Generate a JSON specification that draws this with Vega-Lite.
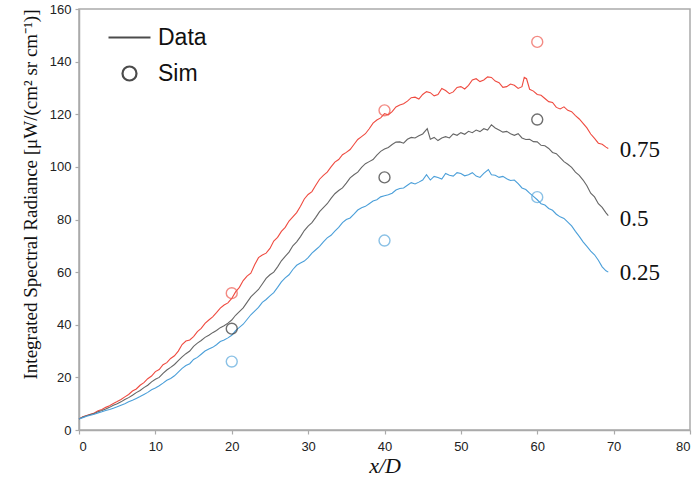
{
  "$schema": "https://vega.github.io/schema/vega-lite/v6.json",
  "width": 611,
  "height": 421,
  "autosize": {"type": "none"},
  "padding": {"left": 79, "top": 9, "right": 6, "bottom": 52},
  "background": "white",
  "config": {
    "view": {"stroke": "#aaaaaa", "strokeWidth": 1.5},
    "axis": {
      "grid": false,
      "domainColor": "#aaaaaa",
      "domainWidth": 1.5,
      "tickColor": "#aaaaaa",
      "tickWidth": 1.2,
      "tickSize": 4,
      "labelFont": "Liberation Sans",
      "labelFontSize": 13,
      "labelColor": "#222222",
      "titleFont": "Liberation Serif",
      "titleFontWeight": "normal",
      "titleColor": "#111111"
    }
  },
  "datasets": {
    "lines": [
      {"s":"0.75","x":0,"y":4.2},{"s":"0.75","x":0.5,"y":5.0},{"s":"0.75","x":1,"y":5.5},{"s":"0.75","x":1.5,"y":6.0},{"s":"0.75","x":2,"y":6.5},{"s":"0.75","x":2.5,"y":7.3},{"s":"0.75","x":3,"y":7.8},{"s":"0.75","x":3.5,"y":8.6},{"s":"0.75","x":4,"y":9.2},{"s":"0.75","x":4.5,"y":10.1},{"s":"0.75","x":5,"y":10.8},{"s":"0.75","x":5.5,"y":11.6},{"s":"0.75","x":6,"y":12.6},{"s":"0.75","x":6.5,"y":13.5},{"s":"0.75","x":7,"y":14.8},{"s":"0.75","x":7.5,"y":15.6},{"s":"0.75","x":8,"y":17.0},{"s":"0.75","x":8.5,"y":18.0},{"s":"0.75","x":9,"y":19.5},{"s":"0.75","x":9.5,"y":20.5},{"s":"0.75","x":10,"y":22.2},{"s":"0.75","x":10.5,"y":23.0},{"s":"0.75","x":11,"y":24.8},{"s":"0.75","x":11.5,"y":25.6},{"s":"0.75","x":12,"y":27.2},{"s":"0.75","x":12.5,"y":28.2},{"s":"0.75","x":13,"y":30.0},{"s":"0.75","x":13.5,"y":32.5},{"s":"0.75","x":14,"y":33.8},{"s":"0.75","x":14.5,"y":34.2},{"s":"0.75","x":15,"y":35.5},{"s":"0.75","x":15.5,"y":37.4},{"s":"0.75","x":16,"y":38.6},{"s":"0.75","x":16.5,"y":40.5},{"s":"0.75","x":17,"y":41.8},{"s":"0.75","x":17.5,"y":43.0},{"s":"0.75","x":18,"y":44.6},{"s":"0.75","x":18.5,"y":46.3},{"s":"0.75","x":19,"y":47.5},{"s":"0.75","x":19.5,"y":48.3},{"s":"0.75","x":20,"y":50.0},{"s":"0.75","x":20.5,"y":52.5},{"s":"0.75","x":21,"y":54.2},{"s":"0.75","x":21.5,"y":56.8},{"s":"0.75","x":22,"y":58.5},{"s":"0.75","x":22.5,"y":59.6},{"s":"0.75","x":23,"y":62.8},{"s":"0.75","x":23.5,"y":65.5},{"s":"0.75","x":24,"y":66.5},{"s":"0.75","x":24.5,"y":67.2},{"s":"0.75","x":25,"y":69.0},{"s":"0.75","x":25.5,"y":71.8},{"s":"0.75","x":26,"y":73.2},{"s":"0.75","x":26.5,"y":75.5},{"s":"0.75","x":27,"y":77.0},{"s":"0.75","x":27.5,"y":79.4},{"s":"0.75","x":28,"y":81.0},{"s":"0.75","x":28.5,"y":82.6},{"s":"0.75","x":29,"y":85.0},{"s":"0.75","x":29.5,"y":87.8},{"s":"0.75","x":30,"y":89.5},{"s":"0.75","x":30.5,"y":90.6},{"s":"0.75","x":31,"y":93.0},{"s":"0.75","x":31.5,"y":95.3},{"s":"0.75","x":32,"y":96.8},{"s":"0.75","x":32.5,"y":98.0},{"s":"0.75","x":33,"y":100.0},{"s":"0.75","x":33.5,"y":101.8},{"s":"0.75","x":34,"y":102.8},{"s":"0.75","x":34.5,"y":104.6},{"s":"0.75","x":35,"y":105.5},{"s":"0.75","x":35.5,"y":106.6},{"s":"0.75","x":36,"y":108.5},{"s":"0.75","x":36.5,"y":110.4},{"s":"0.75","x":37,"y":111.5},{"s":"0.75","x":37.5,"y":112.6},{"s":"0.75","x":38,"y":114.5},{"s":"0.75","x":38.5,"y":116.6},{"s":"0.75","x":39,"y":117.8},{"s":"0.75","x":39.5,"y":118.6},{"s":"0.75","x":40,"y":120.2},{"s":"0.75","x":40.5,"y":119.8},{"s":"0.75","x":41,"y":121.0},{"s":"0.75","x":41.5,"y":122.8},{"s":"0.75","x":42,"y":123.5},{"s":"0.75","x":42.5,"y":124.0},{"s":"0.75","x":43,"y":125.0},{"s":"0.75","x":43.5,"y":126.3},{"s":"0.75","x":44,"y":126.5},{"s":"0.75","x":44.5,"y":125.8},{"s":"0.75","x":45,"y":127.5},{"s":"0.75","x":45.5,"y":128.6},{"s":"0.75","x":46,"y":128.2},{"s":"0.75","x":46.5,"y":127.0},{"s":"0.75","x":47,"y":127.5},{"s":"0.75","x":47.5,"y":129.8},{"s":"0.75","x":48,"y":129.0},{"s":"0.75","x":48.5,"y":127.8},{"s":"0.75","x":49,"y":128.5},{"s":"0.75","x":49.5,"y":130.2},{"s":"0.75","x":50,"y":130.5},{"s":"0.75","x":50.5,"y":129.6},{"s":"0.75","x":51,"y":131.0},{"s":"0.75","x":51.5,"y":133.0},{"s":"0.75","x":52,"y":133.5},{"s":"0.75","x":52.5,"y":132.4},{"s":"0.75","x":53,"y":133.0},{"s":"0.75","x":53.5,"y":134.2},{"s":"0.75","x":54,"y":134.0},{"s":"0.75","x":54.5,"y":132.6},{"s":"0.75","x":55,"y":132.0},{"s":"0.75","x":55.5,"y":130.2},{"s":"0.75","x":56,"y":130.5},{"s":"0.75","x":56.5,"y":131.5},{"s":"0.75","x":57,"y":131.0},{"s":"0.75","x":57.5,"y":129.8},{"s":"0.75","x":58,"y":130.5},{"s":"0.75","x":58.3,"y":134.0},{"s":"0.75","x":58.6,"y":133.5},{"s":"0.75","x":59,"y":129.5},{"s":"0.75","x":59.5,"y":128.8},{"s":"0.75","x":60,"y":127.5},{"s":"0.75","x":60.5,"y":127.2},{"s":"0.75","x":61,"y":126.0},{"s":"0.75","x":61.5,"y":124.8},{"s":"0.75","x":62,"y":124.5},{"s":"0.75","x":62.5,"y":122.6},{"s":"0.75","x":63,"y":122.0},{"s":"0.75","x":63.5,"y":122.8},{"s":"0.75","x":64,"y":121.5},{"s":"0.75","x":64.5,"y":121.0},{"s":"0.75","x":65,"y":119.5},{"s":"0.75","x":65.5,"y":118.2},{"s":"0.75","x":66,"y":116.5},{"s":"0.75","x":66.5,"y":114.8},{"s":"0.75","x":67,"y":112.5},{"s":"0.75","x":67.5,"y":110.8},{"s":"0.75","x":68,"y":109.0},{"s":"0.75","x":68.5,"y":108.6},{"s":"0.75","x":69,"y":107.5},{"s":"0.75","x":69.3,"y":107.0},
      {"s":"0.5","x":0,"y":4.2},{"s":"0.5","x":0.5,"y":4.9},{"s":"0.5","x":1,"y":5.4},{"s":"0.5","x":1.5,"y":5.9},{"s":"0.5","x":2,"y":6.3},{"s":"0.5","x":2.5,"y":6.9},{"s":"0.5","x":3,"y":7.4},{"s":"0.5","x":3.5,"y":8.0},{"s":"0.5","x":4,"y":8.6},{"s":"0.5","x":4.5,"y":9.4},{"s":"0.5","x":5,"y":10.0},{"s":"0.5","x":5.5,"y":10.7},{"s":"0.5","x":6,"y":11.6},{"s":"0.5","x":6.5,"y":12.3},{"s":"0.5","x":7,"y":13.2},{"s":"0.5","x":7.5,"y":14.2},{"s":"0.5","x":8,"y":15.0},{"s":"0.5","x":8.5,"y":16.1},{"s":"0.5","x":9,"y":17.0},{"s":"0.5","x":9.5,"y":18.3},{"s":"0.5","x":10,"y":19.3},{"s":"0.5","x":10.5,"y":20.0},{"s":"0.5","x":11,"y":21.5},{"s":"0.5","x":11.5,"y":22.8},{"s":"0.5","x":12,"y":23.8},{"s":"0.5","x":12.5,"y":24.9},{"s":"0.5","x":13,"y":26.4},{"s":"0.5","x":13.5,"y":27.8},{"s":"0.5","x":14,"y":29.0},{"s":"0.5","x":14.5,"y":30.0},{"s":"0.5","x":15,"y":31.8},{"s":"0.5","x":15.5,"y":33.0},{"s":"0.5","x":16,"y":34.0},{"s":"0.5","x":16.5,"y":35.2},{"s":"0.5","x":17,"y":36.0},{"s":"0.5","x":17.5,"y":37.0},{"s":"0.5","x":18,"y":37.8},{"s":"0.5","x":18.5,"y":38.9},{"s":"0.5","x":19,"y":39.6},{"s":"0.5","x":19.5,"y":40.6},{"s":"0.5","x":20,"y":41.8},{"s":"0.5","x":20.5,"y":43.6},{"s":"0.5","x":21,"y":45.0},{"s":"0.5","x":21.5,"y":46.4},{"s":"0.5","x":22,"y":48.5},{"s":"0.5","x":22.5,"y":50.6},{"s":"0.5","x":23,"y":52.0},{"s":"0.5","x":23.5,"y":53.4},{"s":"0.5","x":24,"y":55.5},{"s":"0.5","x":24.5,"y":57.6},{"s":"0.5","x":25,"y":59.0},{"s":"0.5","x":25.5,"y":60.0},{"s":"0.5","x":26,"y":62.0},{"s":"0.5","x":26.5,"y":64.3},{"s":"0.5","x":27,"y":66.0},{"s":"0.5","x":27.5,"y":67.6},{"s":"0.5","x":28,"y":70.0},{"s":"0.5","x":28.5,"y":71.5},{"s":"0.5","x":29,"y":73.5},{"s":"0.5","x":29.5,"y":75.8},{"s":"0.5","x":30,"y":77.5},{"s":"0.5","x":30.5,"y":78.8},{"s":"0.5","x":31,"y":80.8},{"s":"0.5","x":31.5,"y":83.0},{"s":"0.5","x":32,"y":84.5},{"s":"0.5","x":32.5,"y":86.0},{"s":"0.5","x":33,"y":88.0},{"s":"0.5","x":33.5,"y":89.8},{"s":"0.5","x":34,"y":91.0},{"s":"0.5","x":34.5,"y":92.0},{"s":"0.5","x":35,"y":93.8},{"s":"0.5","x":35.5,"y":95.8},{"s":"0.5","x":36,"y":97.0},{"s":"0.5","x":36.5,"y":98.0},{"s":"0.5","x":37,"y":99.8},{"s":"0.5","x":37.5,"y":101.2},{"s":"0.5","x":38,"y":102.0},{"s":"0.5","x":38.5,"y":102.8},{"s":"0.5","x":39,"y":104.5},{"s":"0.5","x":39.5,"y":105.9},{"s":"0.5","x":40,"y":106.8},{"s":"0.5","x":40.5,"y":107.4},{"s":"0.5","x":41,"y":108.5},{"s":"0.5","x":41.5,"y":109.4},{"s":"0.5","x":42,"y":109.5},{"s":"0.5","x":42.5,"y":109.0},{"s":"0.5","x":43,"y":110.5},{"s":"0.5","x":43.5,"y":111.2},{"s":"0.5","x":44,"y":111.0},{"s":"0.5","x":44.5,"y":111.8},{"s":"0.5","x":45,"y":112.5},{"s":"0.5","x":45.6,"y":114.5},{"s":"0.5","x":46,"y":110.5},{"s":"0.5","x":46.5,"y":111.2},{"s":"0.5","x":47,"y":110.0},{"s":"0.5","x":47.5,"y":111.0},{"s":"0.5","x":48,"y":111.5},{"s":"0.5","x":48.5,"y":111.0},{"s":"0.5","x":49,"y":112.5},{"s":"0.5","x":49.5,"y":112.0},{"s":"0.5","x":50,"y":113.0},{"s":"0.5","x":50.5,"y":112.4},{"s":"0.5","x":51,"y":113.5},{"s":"0.5","x":51.5,"y":113.0},{"s":"0.5","x":52,"y":114.0},{"s":"0.5","x":52.5,"y":113.4},{"s":"0.5","x":53,"y":114.5},{"s":"0.5","x":53.5,"y":114.0},{"s":"0.5","x":54,"y":116.0},{"s":"0.5","x":54.5,"y":114.8},{"s":"0.5","x":55,"y":114.0},{"s":"0.5","x":55.5,"y":113.2},{"s":"0.5","x":56,"y":113.5},{"s":"0.5","x":56.5,"y":112.6},{"s":"0.5","x":57,"y":112.0},{"s":"0.5","x":57.5,"y":112.6},{"s":"0.5","x":58,"y":111.0},{"s":"0.5","x":58.5,"y":110.4},{"s":"0.5","x":59,"y":110.5},{"s":"0.5","x":59.5,"y":109.6},{"s":"0.5","x":60,"y":109.5},{"s":"0.5","x":60.5,"y":108.2},{"s":"0.5","x":61,"y":108.0},{"s":"0.5","x":61.5,"y":107.0},{"s":"0.5","x":62,"y":105.5},{"s":"0.5","x":62.5,"y":105.0},{"s":"0.5","x":63,"y":103.5},{"s":"0.5","x":63.5,"y":102.0},{"s":"0.5","x":64,"y":101.0},{"s":"0.5","x":64.5,"y":99.8},{"s":"0.5","x":65,"y":98.0},{"s":"0.5","x":65.5,"y":96.8},{"s":"0.5","x":66,"y":95.0},{"s":"0.5","x":66.5,"y":92.8},{"s":"0.5","x":67,"y":90.0},{"s":"0.5","x":67.5,"y":88.6},{"s":"0.5","x":68,"y":86.0},{"s":"0.5","x":68.5,"y":84.6},{"s":"0.5","x":69,"y":82.5},{"s":"0.5","x":69.3,"y":81.5},
      {"s":"0.25","x":0,"y":4.2},{"s":"0.25","x":0.5,"y":4.7},{"s":"0.25","x":1,"y":5.2},{"s":"0.25","x":1.5,"y":5.6},{"s":"0.25","x":2,"y":6.0},{"s":"0.25","x":2.5,"y":6.5},{"s":"0.25","x":3,"y":6.9},{"s":"0.25","x":3.5,"y":7.4},{"s":"0.25","x":4,"y":7.8},{"s":"0.25","x":4.5,"y":8.3},{"s":"0.25","x":5,"y":8.8},{"s":"0.25","x":5.5,"y":9.4},{"s":"0.25","x":6,"y":10.0},{"s":"0.25","x":6.5,"y":10.7},{"s":"0.25","x":7,"y":11.3},{"s":"0.25","x":7.5,"y":12.0},{"s":"0.25","x":8,"y":12.7},{"s":"0.25","x":8.5,"y":13.5},{"s":"0.25","x":9,"y":14.3},{"s":"0.25","x":9.5,"y":15.3},{"s":"0.25","x":10,"y":16.0},{"s":"0.25","x":10.5,"y":16.8},{"s":"0.25","x":11,"y":17.8},{"s":"0.25","x":11.5,"y":18.9},{"s":"0.25","x":12,"y":19.6},{"s":"0.25","x":12.5,"y":20.6},{"s":"0.25","x":13,"y":22.0},{"s":"0.25","x":13.5,"y":23.4},{"s":"0.25","x":14,"y":24.5},{"s":"0.25","x":14.5,"y":25.2},{"s":"0.25","x":15,"y":26.8},{"s":"0.25","x":15.5,"y":27.6},{"s":"0.25","x":16,"y":28.8},{"s":"0.25","x":16.5,"y":30.0},{"s":"0.25","x":17,"y":30.8},{"s":"0.25","x":17.5,"y":31.4},{"s":"0.25","x":18,"y":32.4},{"s":"0.25","x":18.5,"y":33.6},{"s":"0.25","x":19,"y":34.2},{"s":"0.25","x":19.5,"y":35.0},{"s":"0.25","x":20,"y":36.0},{"s":"0.25","x":20.5,"y":37.8},{"s":"0.25","x":21,"y":39.0},{"s":"0.25","x":21.5,"y":40.2},{"s":"0.25","x":22,"y":42.0},{"s":"0.25","x":22.5,"y":43.8},{"s":"0.25","x":23,"y":45.2},{"s":"0.25","x":23.5,"y":46.6},{"s":"0.25","x":24,"y":48.5},{"s":"0.25","x":24.5,"y":49.6},{"s":"0.25","x":25,"y":51.0},{"s":"0.25","x":25.5,"y":52.2},{"s":"0.25","x":26,"y":54.2},{"s":"0.25","x":26.5,"y":56.3},{"s":"0.25","x":27,"y":57.8},{"s":"0.25","x":27.5,"y":59.0},{"s":"0.25","x":28,"y":61.0},{"s":"0.25","x":28.5,"y":62.6},{"s":"0.25","x":29,"y":63.5},{"s":"0.25","x":29.5,"y":64.2},{"s":"0.25","x":30,"y":65.5},{"s":"0.25","x":30.5,"y":67.2},{"s":"0.25","x":31,"y":68.5},{"s":"0.25","x":31.5,"y":69.8},{"s":"0.25","x":32,"y":71.5},{"s":"0.25","x":32.5,"y":73.0},{"s":"0.25","x":33,"y":74.0},{"s":"0.25","x":33.5,"y":75.6},{"s":"0.25","x":34,"y":77.0},{"s":"0.25","x":34.5,"y":78.8},{"s":"0.25","x":35,"y":80.0},{"s":"0.25","x":35.5,"y":80.6},{"s":"0.25","x":36,"y":82.0},{"s":"0.25","x":36.5,"y":83.6},{"s":"0.25","x":37,"y":84.5},{"s":"0.25","x":37.5,"y":85.0},{"s":"0.25","x":38,"y":86.0},{"s":"0.25","x":38.5,"y":87.0},{"s":"0.25","x":39,"y":87.5},{"s":"0.25","x":39.5,"y":88.6},{"s":"0.25","x":40,"y":89.0},{"s":"0.25","x":40.5,"y":89.4},{"s":"0.25","x":41,"y":90.0},{"s":"0.25","x":41.5,"y":91.2},{"s":"0.25","x":42,"y":91.8},{"s":"0.25","x":42.5,"y":92.0},{"s":"0.25","x":43,"y":93.0},{"s":"0.25","x":43.5,"y":94.0},{"s":"0.25","x":44,"y":93.5},{"s":"0.25","x":44.5,"y":94.2},{"s":"0.25","x":45,"y":95.0},{"s":"0.25","x":45.5,"y":97.0},{"s":"0.25","x":46,"y":95.0},{"s":"0.25","x":46.5,"y":96.4},{"s":"0.25","x":47,"y":96.0},{"s":"0.25","x":47.5,"y":95.4},{"s":"0.25","x":48,"y":97.5},{"s":"0.25","x":48.5,"y":96.8},{"s":"0.25","x":49,"y":96.5},{"s":"0.25","x":49.5,"y":97.8},{"s":"0.25","x":50,"y":97.5},{"s":"0.25","x":50.5,"y":96.6},{"s":"0.25","x":51,"y":97.0},{"s":"0.25","x":51.5,"y":97.8},{"s":"0.25","x":52,"y":96.5},{"s":"0.25","x":52.5,"y":96.0},{"s":"0.25","x":53,"y":97.5},{"s":"0.25","x":53.6,"y":99.0},{"s":"0.25","x":54,"y":97.0},{"s":"0.25","x":54.5,"y":96.8},{"s":"0.25","x":55,"y":96.0},{"s":"0.25","x":55.5,"y":96.4},{"s":"0.25","x":56,"y":95.5},{"s":"0.25","x":56.5,"y":94.8},{"s":"0.25","x":57,"y":95.0},{"s":"0.25","x":57.5,"y":93.6},{"s":"0.25","x":58,"y":92.0},{"s":"0.25","x":58.5,"y":91.4},{"s":"0.25","x":59,"y":90.0},{"s":"0.25","x":59.5,"y":88.8},{"s":"0.25","x":60,"y":87.5},{"s":"0.25","x":60.5,"y":86.0},{"s":"0.25","x":61,"y":85.5},{"s":"0.25","x":61.5,"y":84.2},{"s":"0.25","x":62,"y":83.5},{"s":"0.25","x":62.5,"y":82.0},{"s":"0.25","x":63,"y":81.0},{"s":"0.25","x":63.5,"y":80.4},{"s":"0.25","x":64,"y":79.0},{"s":"0.25","x":64.5,"y":77.6},{"s":"0.25","x":65,"y":75.5},{"s":"0.25","x":65.5,"y":73.6},{"s":"0.25","x":66,"y":71.5},{"s":"0.25","x":66.5,"y":69.8},{"s":"0.25","x":67,"y":68.0},{"s":"0.25","x":67.5,"y":66.6},{"s":"0.25","x":68,"y":64.5},{"s":"0.25","x":68.5,"y":62.0},{"s":"0.25","x":69,"y":60.5},{"s":"0.25","x":69.3,"y":60.0}
    ],
    "sims": [
      {"s":"0.75","x":20,"y":52,"kind":"Sim"},{"s":"0.75","x":40,"y":121.5,"kind":"Sim"},{"s":"0.75","x":60,"y":147.5,"kind":"Sim"},
      {"s":"0.5","x":20,"y":38.5,"kind":"Sim"},{"s":"0.5","x":40,"y":96,"kind":"Sim"},{"s":"0.5","x":60,"y":118,"kind":"Sim"},
      {"s":"0.25","x":20,"y":26,"kind":"Sim"},{"s":"0.25","x":40,"y":72,"kind":"Sim"},{"s":"0.25","x":60,"y":88.5,"kind":"Sim"}
    ],
    "labels": [
      {"label":"0.75","x":70.8,"y":106.5},
      {"label":"0.5","x":70.8,"y":80.2},
      {"label":"0.25","x":70.8,"y":59.7}
    ]
  },
  "layer": [
    {
      "data": {"name": "lines"},
      "mark": {"type": "line", "strokeWidth": 1.1},
      "encoding": {
        "x": {"field": "x", "type": "quantitative", "scale": {"domain": [0, 80], "nice": false},
          "axis": {"values": [0,5,10,15,20,25,30,35,40,45,50,55,60,65,70,75,80], "labelExpr": "datum.value % 10 === 0 ? datum.label : ''", "title": "x/D", "titleFontStyle": "italic", "titleFontSize": 22, "titlePadding": 2, "labelPadding": 6}},
        "y": {"field": "y", "type": "quantitative", "scale": {"domain": [0, 160], "nice": false},
          "axis": {"values": [0,10,20,30,40,50,60,70,80,90,100,110,120,130,140,150,160], "labelExpr": "datum.value % 20 === 0 ? datum.label : ''", "title": "Integrated Spectral Radiance [μW/(cm² sr cm⁻¹)]", "titleFontSize": 19, "titleAnchor": "end", "titlePadding": 9, "labelPadding": 4}},
        "color": {"field": "s", "type": "nominal", "scale": {"domain": ["0.75", "0.5", "0.25"], "range": ["#ef4b40", "#666666", "#4b9fd9"]}, "legend": null},
        "detail": {"field": "s"}
      }
    },
    {
      "data": {"name": "sims"},
      "mark": {"type": "point", "filled": false, "size": 120, "strokeWidth": 1.4},
      "encoding": {
        "x": {"field": "x", "type": "quantitative"},
        "y": {"field": "y", "type": "quantitative"},
        "stroke": {"field": "s", "type": "nominal", "scale": {"domain": ["0.75", "0.5", "0.25"], "range": ["#ef5a50", "#333333", "#5aa8dc"]}, "legend": null},
        "shape": {"field": "kind", "type": "nominal", "scale": {"domain": ["Data", "Sim"], "range": ["M-3,0L3,0", "circle"]},
          "legend": {"title": null, "orient": "none", "legendX": 39, "legendY": 17, "symbolSize": 196, "symbolStrokeColor": "black", "symbolStrokeWidth": 2.2, "symbolFillColor": "transparent", "labelFont": "Liberation Sans", "labelFontSize": 23, "labelColor": "#111111", "labelOffset": 17, "rowPadding": 12, "padding": 0}}
      }
    },
    {
      "data": {"name": "labels"},
      "mark": {"type": "text", "align": "left", "baseline": "middle", "font": "Liberation Serif", "fontSize": 23, "color": "#111111"},
      "encoding": {
        "x": {"field": "x", "type": "quantitative"},
        "y": {"field": "y", "type": "quantitative"},
        "text": {"field": "label"}
      }
    }
  ]
}
